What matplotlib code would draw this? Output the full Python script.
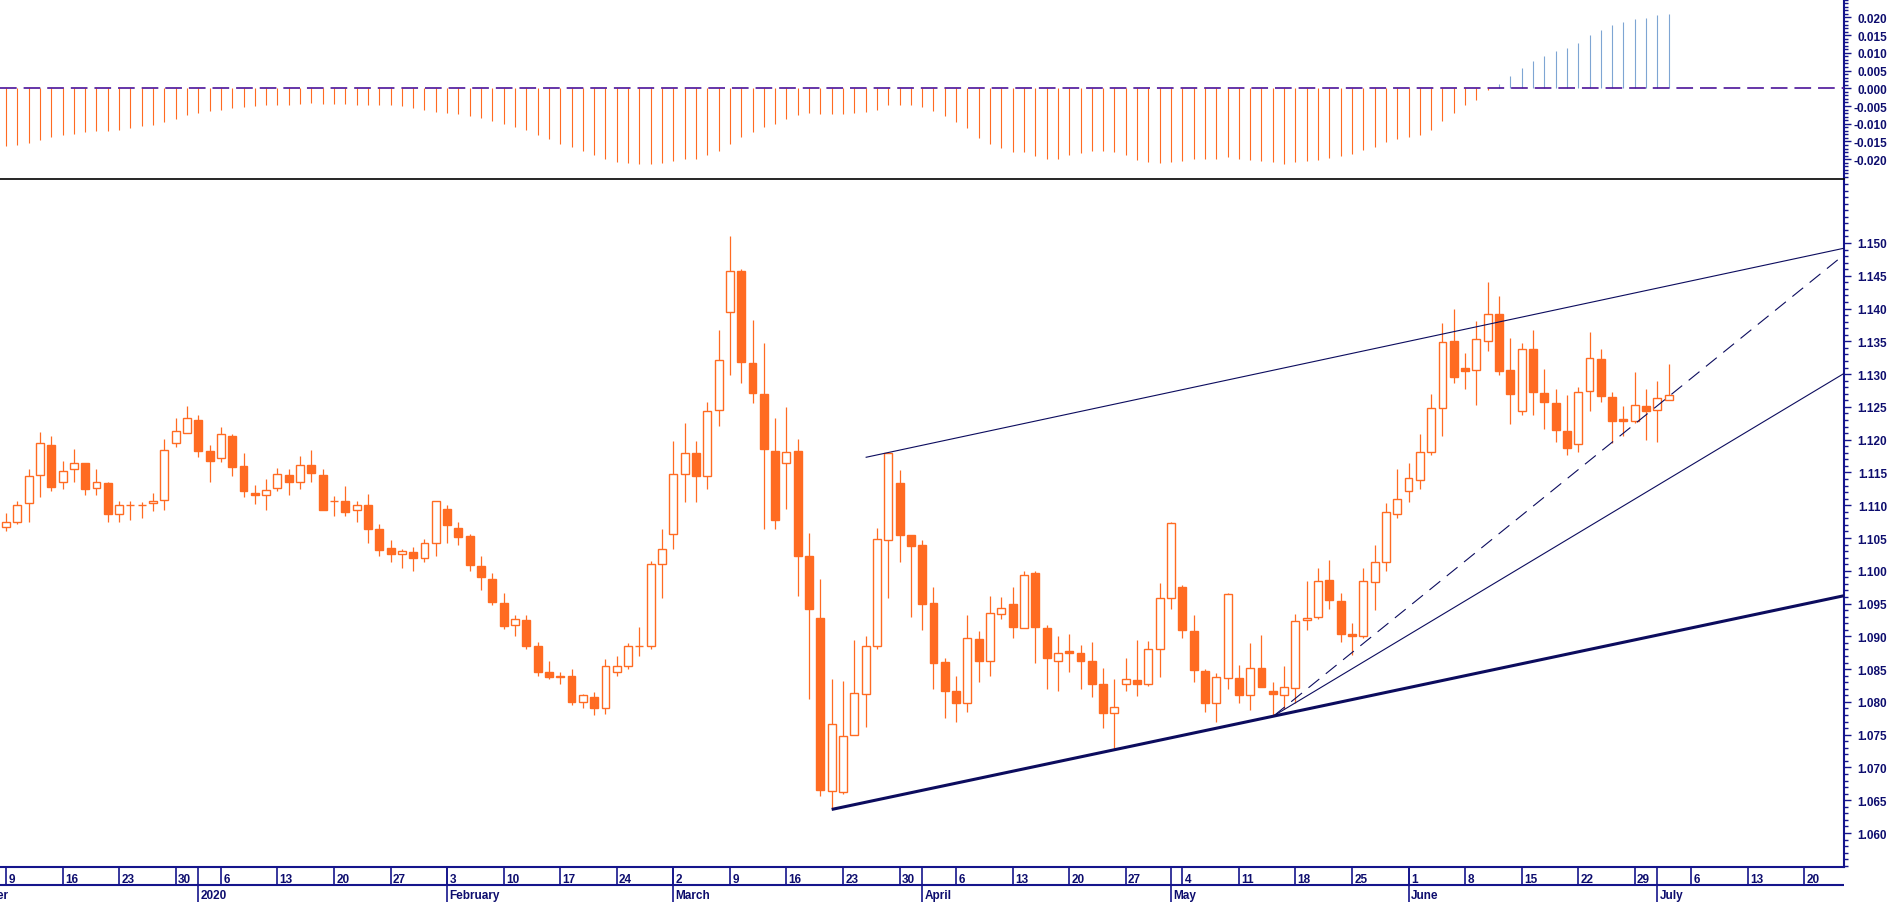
import numpy as np
import pandas as pd
import matplotlib
matplotlib.use('Agg')
import matplotlib.pyplot as plt
from matplotlib.ticker import FixedLocator, FormatStrFormatter

plt.rcParams['font.family'] = ['Liberation Sans', 'DejaVu Sans']
plt.rcParams['axes.unicode_minus'] = False
plt.rcParams['lines.scale_dashes'] = False

# Daily bars, 9 Dec 2019 .. 2 Jul 2020 (one bar per weekday, no bar on 1 Jan)
opens = [1.1067, 1.1074, 1.1103, 1.1146, 1.1192, 1.1135, 1.1155, 1.1165, 1.1126, 1.1134,
         1.1086, 1.1100, 1.1100, 1.1103, 1.1108, 1.1195, 1.1210, 1.1230, 1.1183, 1.1172,
         1.1206, 1.1160, 1.1119, 1.1115, 1.1126, 1.1146, 1.1136, 1.1161, 1.1146, 1.1106,
         1.1107, 1.1092, 1.1101, 1.1064, 1.1035, 1.1026, 1.1028, 1.1019, 1.1043, 1.1095,
         1.1066, 1.1053, 1.1007, 1.0988, 1.0951, 1.0918, 1.0925, 1.0885, 1.0845, 1.0838,
         1.0840, 1.0800, 1.0808, 1.0790, 1.0845, 1.0855, 1.0885, 1.0885, 1.1010, 1.1056,
         1.1147, 1.1179, 1.1144, 1.1245, 1.1394, 1.1457, 1.1317, 1.1270, 1.1182, 1.1164,
         1.1182, 1.1022, 1.0928, 1.0664, 1.0662, 1.0749, 1.0812, 1.0885, 1.1047, 1.1134,
         1.1055, 1.1039, 1.0951, 1.0861, 1.0816, 1.0798, 1.0896, 1.0862, 1.0934, 1.0949,
         1.0912, 1.0996, 1.0912, 1.0863, 1.0877, 1.0875, 1.0863, 1.0827, 1.0783, 1.0827,
         1.0834, 1.0827, 1.0880, 1.0958, 1.0976, 1.0908, 1.0847, 1.0798, 1.0836, 1.0836,
         1.0811, 1.0851, 1.0817, 1.0811, 1.0821, 1.0925, 1.0929, 1.0986, 1.0954, 1.0904,
         1.0901, 1.0983, 1.1014, 1.1087, 1.1121, 1.1139, 1.1181, 1.1249, 1.1350, 1.1309,
         1.1307, 1.1351, 1.1392, 1.1306, 1.1244, 1.1338, 1.1271, 1.1256, 1.1213, 1.1193,
         1.1275, 1.1323, 1.1265, 1.1232, 1.1229, 1.1251, 1.1245, 1.1261]
highs = [1.1088, 1.1107, 1.1155, 1.1211, 1.1206, 1.1168, 1.1186, 1.1165, 1.1155, 1.1136,
         1.1107, 1.1107, 1.1105, 1.1119, 1.1201, 1.1233, 1.1251, 1.1238, 1.1192, 1.1219,
         1.1208, 1.1180, 1.1131, 1.1140, 1.1157, 1.1155, 1.1175, 1.1184, 1.1155, 1.1114,
         1.1129, 1.1107, 1.1117, 1.1071, 1.1047, 1.1034, 1.1037, 1.1049, 1.1106, 1.1100,
         1.1074, 1.1056, 1.1022, 1.0997, 1.0966, 1.0933, 1.0933, 1.0892, 1.0862, 1.0846,
         1.0850, 1.0812, 1.0815, 1.0865, 1.0870, 1.0890, 1.0915, 1.1015, 1.1064, 1.1198,
         1.1226, 1.1198, 1.1257, 1.1368, 1.1510, 1.1460, 1.1382, 1.1348, 1.1233, 1.1250,
         1.1201, 1.1057, 1.0988, 1.0835, 1.0832, 1.0895, 1.0901, 1.1066, 1.1179, 1.1154,
         1.1055, 1.1047, 1.0975, 1.0867, 1.0840, 1.0933, 1.0908, 1.0962, 1.0960, 1.0975,
         1.0999, 1.0999, 1.0918, 1.0901, 1.0903, 1.0887, 1.0891, 1.0851, 1.0835, 1.0867,
         1.0895, 1.0893, 1.0982, 1.1075, 1.0978, 1.0933, 1.0850, 1.0844, 1.0966, 1.0856,
         1.0890, 1.0902, 1.0830, 1.0855, 1.0934, 1.0984, 1.1005, 1.1017, 1.0966, 1.0920,
         1.1005, 1.1039, 1.1104, 1.1156, 1.1165, 1.1209, 1.1270, 1.1378, 1.1399, 1.1332,
         1.1381, 1.1440, 1.1419, 1.1355, 1.1348, 1.1367, 1.1308, 1.1277, 1.1268, 1.1281,
         1.1364, 1.1339, 1.1272, 1.1251, 1.1303, 1.1277, 1.1290, 1.1316]
lows = [1.1061, 1.1072, 1.1074, 1.1112, 1.1121, 1.1124, 1.1135, 1.1115, 1.1115, 1.1074,
        1.1074, 1.1078, 1.1080, 1.1091, 1.1093, 1.1189, 1.1210, 1.1174, 1.1135, 1.1166,
        1.1145, 1.1112, 1.1102, 1.1093, 1.1122, 1.1115, 1.1124, 1.1135, 1.1093, 1.1083,
        1.1083, 1.1074, 1.1043, 1.1023, 1.1013, 1.1004, 1.0999, 1.1013, 1.1023, 1.1043,
        1.1040, 1.1000, 1.0971, 1.0948, 1.0911, 1.0900, 1.0880, 1.0840, 1.0835, 1.0828,
        1.0795, 1.0790, 1.0780, 1.0782, 1.0840, 1.0850, 1.0870, 1.0880, 1.0958, 1.1034,
        1.1105, 1.1105, 1.1124, 1.1221, 1.1298, 1.1287, 1.1256, 1.1064, 1.1064, 1.1094,
        1.0962, 1.0805, 1.0657, 1.0636, 1.0660, 1.0749, 1.0762, 1.0880, 1.0959, 1.1013,
        1.0930, 1.0909, 1.0820, 1.0776, 1.0769, 1.0785, 1.0830, 1.0840, 1.0926, 1.0898,
        1.0912, 1.0860, 1.0820, 1.0816, 1.0845, 1.0820, 1.0807, 1.0760, 1.0728, 1.0816,
        1.0809, 1.0824, 1.0838, 1.0941, 1.0897, 1.0830, 1.0785, 1.0769, 1.0820, 1.0799,
        1.0788, 1.0822, 1.0779, 1.0789, 1.0799, 1.0909, 1.0926, 1.0942, 1.0891, 1.0871,
        1.0897, 1.0940, 1.0999, 1.1080, 1.1105, 1.1124, 1.1177, 1.1205, 1.1287, 1.1277,
        1.1253, 1.1336, 1.1298, 1.1224, 1.1237, 1.1237, 1.1217, 1.1196, 1.1176, 1.1181,
        1.1244, 1.1257, 1.1195, 1.1205, 1.1226, 1.1199, 1.1197, 1.1260]
closes = [1.1074, 1.1101, 1.1144, 1.1195, 1.1128, 1.1152, 1.1164, 1.1125, 1.1135, 1.1087,
          1.1100, 1.1100, 1.1100, 1.1107, 1.1184, 1.1213, 1.1233, 1.1182, 1.1168, 1.1208,
          1.1159, 1.1121, 1.1115, 1.1123, 1.1147, 1.1136, 1.1162, 1.1149, 1.1093, 1.1106,
          1.1090, 1.1101, 1.1064, 1.1032, 1.1026, 1.1030, 1.1020, 1.1043, 1.1106, 1.1070,
          1.1052, 1.1009, 1.0990, 1.0953, 1.0916, 1.0926, 1.0885, 1.0845, 1.0838, 1.0840,
          1.0800, 1.0810, 1.0790, 1.0855, 1.0855, 1.0885, 1.0885, 1.1011, 1.1034, 1.1147,
          1.1180, 1.1144, 1.1243, 1.1321, 1.1457, 1.1319, 1.1271, 1.1186, 1.1077, 1.1181,
          1.1023, 1.0941, 1.0666, 1.0766, 1.0748, 1.0813, 1.0885, 1.1048, 1.1179, 1.1055,
          1.1038, 1.0950, 1.0860, 1.0816, 1.0799, 1.0897, 1.0862, 1.0935, 1.0943, 1.0915,
          1.0994, 1.0915, 1.0867, 1.0875, 1.0875, 1.0862, 1.0828, 1.0783, 1.0793, 1.0835,
          1.0827, 1.0880, 1.0958, 1.1073, 1.0909, 1.0848, 1.0799, 1.0838, 1.0964, 1.0810,
          1.0851, 1.0822, 1.0812, 1.0823, 1.0923, 1.0928, 1.0984, 1.0955, 1.0903, 1.0901,
          1.0984, 1.1014, 1.1089, 1.1109, 1.1141, 1.1181, 1.1249, 1.1349, 1.1296, 1.1305,
          1.1353, 1.1391, 1.1305, 1.1269, 1.1338, 1.1273, 1.1257, 1.1214, 1.1188, 1.1273,
          1.1324, 1.1266, 1.1228, 1.1229, 1.1253, 1.1244, 1.1263, 1.1268]

# Oscillator in the upper panel, one value per bar
osc = [-0.0162, -0.0159, -0.0153, -0.0145, -0.0137, -0.0131, -0.0128, -0.0123, -0.0120, -0.0120,
       -0.0117, -0.0111, -0.0106, -0.0103, -0.0094, -0.0086, -0.0075, -0.0069, -0.0063, -0.0060,
       -0.0057, -0.0052, -0.0049, -0.0047, -0.0047, -0.0047, -0.0043, -0.0041, -0.0043, -0.0043,
       -0.0043, -0.0047, -0.0047, -0.0047, -0.0047, -0.0049, -0.0055, -0.0062, -0.0066, -0.0069,
       -0.0072, -0.0079, -0.0085, -0.0091, -0.0100, -0.0108, -0.0117, -0.0131, -0.0142, -0.0156,
       -0.0165, -0.0176, -0.0188, -0.0199, -0.0207, -0.0210, -0.0213, -0.0213, -0.0210, -0.0204,
       -0.0199, -0.0199, -0.0188, -0.0176, -0.0156, -0.0137, -0.0123, -0.0108, -0.0100, -0.0086,
       -0.0075, -0.0069, -0.0072, -0.0072, -0.0072, -0.0069, -0.0066, -0.0060, -0.0046, -0.0046,
       -0.0047, -0.0052, -0.0063, -0.0077, -0.0094, -0.0111, -0.0140, -0.0156, -0.0168, -0.0179,
       -0.0179, -0.0190, -0.0199, -0.0199, -0.0188, -0.0182, -0.0176, -0.0176, -0.0179, -0.0188,
       -0.0202, -0.0207, -0.0210, -0.0207, -0.0204, -0.0199, -0.0199, -0.0199, -0.0193, -0.0199,
       -0.0202, -0.0204, -0.0207, -0.0213, -0.0207, -0.0204, -0.0202, -0.0196, -0.0190, -0.0185,
       -0.0173, -0.0165, -0.0151, -0.0142, -0.0137, -0.0131, -0.0117, -0.0091, -0.0069, -0.0046,
       -0.0032, -0.0004, 0.0012, 0.0036, 0.0057, 0.0078, 0.0092, 0.0105, 0.0114, 0.0128,
       0.0149, 0.0165, 0.0179, 0.0187, 0.0196, 0.0199, 0.0207, 0.0210]

# Trend lines: start bar, start price, price where the line meets the right axis
line_start_bar = [76.0, 73.0, 112.1, 112.1]
line_start_price = [1.1173, 1.0636, 1.0779, 1.0779]
line_end_price = [1.1492, 1.0962, 1.1301, 1.1482]
line_style = ['-', '-', '-', '--']
line_width = [0.8, 2.2, 0.8, 0.8]

orange = '#ff6b22'
navy = '#0c0c5e'
axis_blue = '#15158c'
text_blue = '#0d0d6e'

opens = np.array(opens)
highs = np.array(highs)
lows = np.array(lows)
closes = np.array(closes)
osc = np.array(osc)
x = np.arange(len(closes))

# trading days used for the date strip (bar 0 = 9 Dec 2019)
days = pd.bdate_range('2019-12-02', '2020-07-31')
days = days[days != pd.Timestamp('2020-01-01')]
offset = days.get_loc(pd.Timestamp('2019-12-09'))
day_pos = np.arange(len(days)) - offset

xmin, xmax = -0.53, 162.5

fig = plt.figure(figsize=(18.9, 9.03), dpi=100)
ax_osc = fig.add_axes([0, 1 - 180 / 903, 1844 / 1890, 180 / 903])
ax = fig.add_axes([0, 35 / 903, 1844 / 1890, 688 / 903])
ax_d = fig.add_axes([0, 0, 1844 / 1890, 35 / 903])


def style_right_axis(a, majors, lo, hi):
    for s in ['left', 'top', 'bottom']:
        a.spines[s].set_visible(False)
    a.spines['right'].set_color(axis_blue)
    a.spines['right'].set_linewidth(1.5)
    a.yaxis.tick_right()
    a.set_xticks([])
    a.yaxis.set_major_locator(FixedLocator(majors))
    a.yaxis.set_minor_locator(FixedLocator(np.round(np.arange(lo, hi, 0.001), 3)))
    a.yaxis.set_major_formatter(FormatStrFormatter('%.3f'))
    a.tick_params(axis='y', which='major', length=5, width=1, color=axis_blue,
                  labelcolor=text_blue, labelsize=8.5, pad=26)
    a.tick_params(axis='y', which='minor', length=3, width=1, color=axis_blue)
    for lab in a.get_yticklabels():
        lab.set_horizontalalignment('right')
        lab.set_fontweight('bold')


# Upper panel: oscillator bars around a dashed zero line
neg = osc < 0
ax_osc.vlines(x[neg], 0, osc[neg], color=orange, lw=0.8)
ax_osc.vlines(x[~neg], 0, osc[~neg], color='#7ea5d3', lw=0.8)
ax_osc.axhline(0, color='#4c1399', lw=1.2, dashes=(12, 5), zorder=3)
ax_osc.set_xlim(xmin, xmax)
ax_osc.set_ylim(-0.0256, 0.0252)
style_right_axis(ax_osc, np.round(np.arange(-0.020, 0.0201, 0.005), 3), -0.025, 0.026)

# Main panel: candles
ax.vlines(x, lows, highs, color=orange, lw=0.9, zorder=2)
up = closes >= opens
body_lo = np.minimum(opens, closes)
body_h = np.maximum(np.abs(closes - opens), 0.00005)
ax.bar(x[up], body_h[up], 0.7, bottom=body_lo[up], facecolor='white',
       edgecolor=orange, lw=1.0, zorder=3)
ax.bar(x[~up], body_h[~up], 0.7, bottom=body_lo[~up], facecolor=orange,
       edgecolor=orange, lw=1.0, zorder=3)

# Trend lines, all running into the right axis
for i in range(len(line_start_bar)):
    ln, = ax.plot([line_start_bar[i], xmax], [line_start_price[i], line_end_price[i]],
                  color=navy, lw=line_width[i], zorder=4, solid_capstyle='butt')
    if line_style[i] == '--':
        ln.set_dashes((10, 6))

# separator between the two panels
ax.axhline(1.15976, color='black', lw=1.2, zorder=5, clip_on=False)

ax.set_xlim(xmin, xmax)
ax.set_ylim(1.05482, 1.15976)
style_right_axis(ax, np.round(np.arange(1.060, 1.1501, 0.005), 3), 1.055, 1.160)

# Date strip: weeks on the upper row, months on the lower row
ax_d.set_xlim(xmin, xmax)
ax_d.set_ylim(0, 1)
ax_d.axis('off')
ax_d.axhline(1.0, color=axis_blue, lw=1.5, clip_on=False)
ax_d.axhline(0.486, color=axis_blue, lw=1.5)
month_names = {1: '2020', 2: 'February', 3: 'March', 4: 'April', 5: 'May',
               6: 'June', 7: 'July', 12: 'December'}
prev_month = None
for d, p in zip(days, day_pos):
    if p > xmax:
        break
    if d.month != prev_month:
        # the December label is only partly inside the chart, as in the original
        ax_d.plot([p, p], [0, 1], color=axis_blue, lw=1.2)
        ax_d.text(p + 0.2, 0.1, month_names[d.month], color=text_blue, fontsize=8.5,
                  fontweight='bold', ha='left', va='baseline', clip_on=True)
        prev_month = d.month
    if d.weekday() == 0 and p >= xmin:
        ax_d.plot([p, p], [0.486, 1], color=axis_blue, lw=1.2)
        ax_d.text(p + 0.2, 0.58, str(d.day), color=text_blue, fontsize=8.5,
                  fontweight='bold', ha='left', va='baseline')

plt.savefig('out.png', dpi=100)
